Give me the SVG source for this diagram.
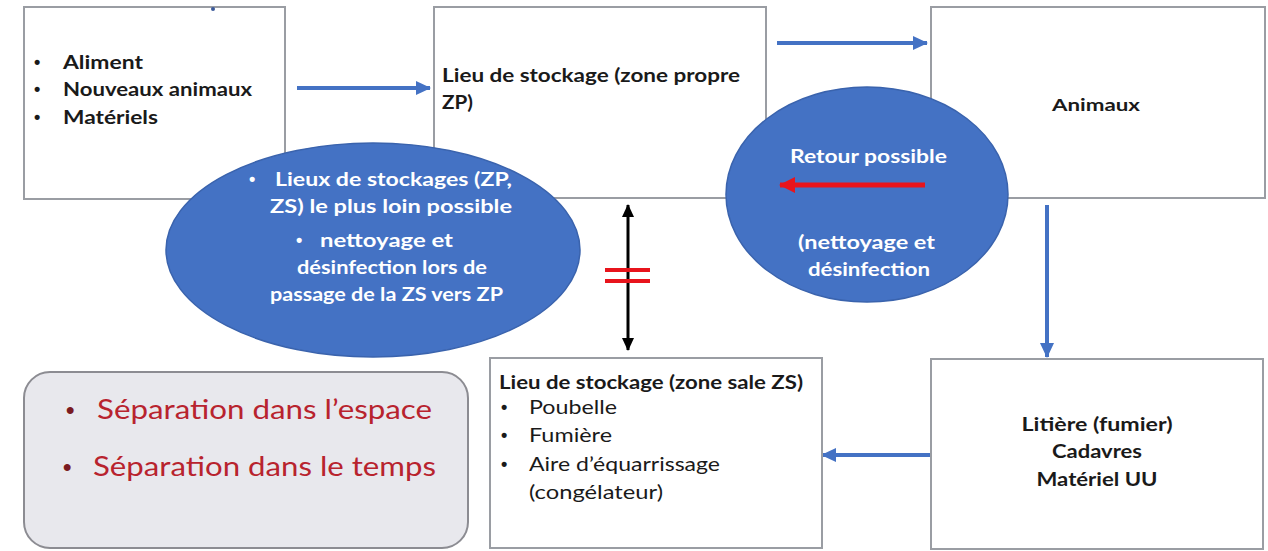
<svg xmlns="http://www.w3.org/2000/svg" width="1268" height="551" viewBox="0 0 1268 551">
<style>
.box{fill:#ffffff;stroke:#9a9da3;stroke-width:2}
.t{font-family:Lato,"Liberation Sans",sans-serif;fill:#1a1a1a}
.b{font-weight:bold}
.bul{font-family:"Liberation Sans",sans-serif;font-weight:bold;font-size:18px;fill:#1a1a1a}
.w{font-family:Lato,"Liberation Sans",sans-serif;font-weight:bold;fill:#ffffff;font-size:19px}
.wb{font-family:"Liberation Sans",sans-serif;font-weight:bold;font-size:18px;fill:#ffffff}
.ell{fill:#4472c4;stroke:#3a63ad;stroke-width:1.5}
.blue{stroke:#4472c4;stroke-width:4;fill:none}
.red{font-family:Lato,"Liberation Sans",sans-serif;fill:#b8232e;font-size:27px}
.redb{font-family:"Liberation Sans",sans-serif;font-weight:bold;fill:#7a1a22;font-size:24px}
</style>
<defs>
<marker id="ab" markerUnits="userSpaceOnUse" markerWidth="16" markerHeight="16" refX="14" refY="8" orient="auto">
<path d="M0,1 L15,8 L0,15 Z" fill="#4472c4"/>
</marker>
<marker id="ak" markerUnits="userSpaceOnUse" markerWidth="14" markerHeight="14" refX="12" refY="7" orient="auto-start-reverse">
<path d="M0,1 L13,7 L0,13 Z" fill="#000000"/>
</marker>
<marker id="ar" markerUnits="userSpaceOnUse" markerWidth="18" markerHeight="18" refX="15" refY="9" orient="auto">
<path d="M0,1 L16,9 L0,17 Z" fill="#e8141c"/>
</marker>
</defs>

<g id="connectors">
<line class="blue" x1="297" y1="88" x2="430" y2="88" marker-end="url(#ab)"/>
<line class="blue" x1="777" y1="43" x2="927" y2="43" marker-end="url(#ab)"/>
<line class="blue" x1="1047" y1="205" x2="1047" y2="357" marker-end="url(#ab)"/>
<line class="blue" x1="931" y1="455" x2="822" y2="455" marker-end="url(#ab)"/>
<line x1="628" y1="205" x2="628" y2="350" stroke="#000" stroke-width="3" marker-start="url(#ak)" marker-end="url(#ak)"/>
<line x1="605" y1="270" x2="650" y2="270" stroke="#e8141c" stroke-width="4"/>
<line x1="605" y1="281" x2="650" y2="281" stroke="#e8141c" stroke-width="4"/>
</g>

<g id="node-intrants">
<rect class="box" x="24" y="7" width="261" height="192"/>
<circle cx="213" cy="9" r="2" fill="#3b5a9a"/>
<text class="bul" x="34" y="68">•</text><text class="t b" font-size="19" x="63" y="69" textLength="80" lengthAdjust="spacingAndGlyphs">Aliment</text>
<text class="bul" x="34" y="95">•</text><text class="t b" font-size="19" x="63" y="96" textLength="189" lengthAdjust="spacingAndGlyphs">Nouveaux animaux</text>
<text class="bul" x="34" y="123">•</text><text class="t b" font-size="19" x="63" y="124" textLength="95" lengthAdjust="spacingAndGlyphs">Matériels</text>
</g>

<g id="node-zp">
<rect class="box" x="434" y="7" width="332" height="191"/>
<g class="t b" font-size="19">
<text x="442" y="82" textLength="298" lengthAdjust="spacingAndGlyphs">Lieu de stockage (zone propre</text>
<text x="442" y="109" textLength="31" lengthAdjust="spacingAndGlyphs">ZP)</text>
</g>
</g>

<g id="node-animaux">
<rect class="box" x="931" y="7" width="334" height="191"/>
<text class="t b" font-size="17" x="1052" y="111" textLength="88" lengthAdjust="spacingAndGlyphs">Animaux</text>
</g>

<g id="node-ellipse-separation">
<ellipse class="ell" cx="373" cy="250" rx="207" ry="107"/>
<text class="wb" x="249" y="185">•</text><text class="w" x="275" y="186" textLength="237" lengthAdjust="spacingAndGlyphs">Lieux de stockages (ZP,</text>
<text class="w" x="270" y="213" textLength="242" lengthAdjust="spacingAndGlyphs">ZS) le plus loin possible</text>
<text class="wb" x="296" y="246">•</text><text class="w" x="320" y="247" textLength="133" lengthAdjust="spacingAndGlyphs">nettoyage et</text>
<text class="w" x="297" y="274" textLength="190" lengthAdjust="spacingAndGlyphs">désinfection lors de</text>
<text class="w" x="270" y="301" textLength="233" lengthAdjust="spacingAndGlyphs">passage de la ZS vers ZP</text>
</g>

<g id="node-ellipse-retour">
<ellipse class="ell" cx="867" cy="194.5" rx="141" ry="107.5"/>
<text class="w" x="790" y="163" textLength="157" lengthAdjust="spacingAndGlyphs">Retour possible</text>
<line x1="925" y1="185" x2="780" y2="185" stroke="#e8141c" stroke-width="5" marker-end="url(#ar)"/>
<text class="w" x="798" y="249" textLength="137" lengthAdjust="spacingAndGlyphs">(nettoyage et</text>
<text class="w" x="808" y="276" textLength="122" lengthAdjust="spacingAndGlyphs">désinfection</text>
</g>

<g id="node-zs">
<rect class="box" x="490" y="358" width="332" height="190"/>
<text class="t b" font-size="19" x="499" y="389" textLength="304" lengthAdjust="spacingAndGlyphs">Lieu de stockage (zone sale ZS)</text>
<g class="t" font-size="19" fill="#333">
<text class="bul" x="501" y="413">•</text><text x="529" y="414" textLength="88" lengthAdjust="spacingAndGlyphs">Poubelle</text>
<text class="bul" x="501" y="441">•</text><text x="529" y="442" textLength="83" lengthAdjust="spacingAndGlyphs">Fumière</text>
<text class="bul" x="501" y="470">•</text><text x="529" y="471" textLength="191" lengthAdjust="spacingAndGlyphs">Aire d’équarrissage</text>
<text x="529" y="499" textLength="134" lengthAdjust="spacingAndGlyphs">(congélateur)</text>
</g>
</g>

<g id="node-litiere">
<rect class="box" x="931" y="359" width="332" height="190"/>
<g class="t b" font-size="19" text-anchor="middle">
<text x="1097" y="431" textLength="151" lengthAdjust="spacingAndGlyphs">Litière (fumier)</text>
<text x="1097" y="458" textLength="90" lengthAdjust="spacingAndGlyphs">Cadavres</text>
<text x="1097" y="486" textLength="121" lengthAdjust="spacingAndGlyphs">Matériel UU</text>
</g>
</g>

<g id="node-legend">
<rect x="24" y="372" width="444" height="176" rx="26" ry="26" fill="#e8e8ed" stroke="#8c8c92" stroke-width="2"/>
<text class="redb" x="66" y="418">•</text><text class="red" x="97" y="419" textLength="335" lengthAdjust="spacingAndGlyphs">Séparation dans l’espace</text>
<text class="redb" x="63" y="475">•</text><text class="red" x="93" y="476" textLength="343" lengthAdjust="spacingAndGlyphs">Séparation dans le temps</text>
</g>
</svg>
